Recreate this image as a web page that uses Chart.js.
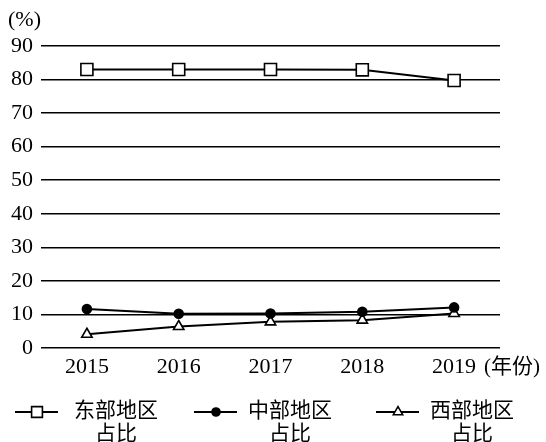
<!DOCTYPE html>
<html>
<head>
<meta charset="utf-8">
<script src="https://cdn.jsdelivr.net/npm/chart.js@4/dist/chart.umd.min.js"></script>
<style>
html,body{margin:0;padding:0;background:#fff;}
#wrap{width:546px;height:442px;}
</style>
</head>
<body>
<div id="wrap"><canvas id="myChart" width="546" height="442"></canvas></div>
<script>
// data
const years = ['2015', '2016', '2017', '2018', '2019'];
const seriesNames = ['东部地区占比', '中部地区占比', '西部地区占比'];
const eastShare = [83.0, 83.0, 83.0, 82.9, 79.7];
const centralShare = [11.6, 10.2, 10.3, 10.8, 12.1];
const westShare = [4.1, 6.4, 7.8, 8.3, 10.3];
const yUnit = '(%)';
const xUnit = '(年份)';

const serif = '"Liberation Serif", "Times New Roman", serif';
const cjk = '"Liberation Serif", "Noto Sans CJK SC", serif';

const styles = [
    {pointStyle: 'rect', radius: 8.5, fill: '#fff'},
    {pointStyle: 'circle', radius: 4.5, fill: '#000'},
    {pointStyle: 'triangle', radius: 6, fill: '#fff'}
];

function drawMarker(ctx, st, x, y) {
    ctx.save();
    ctx.fillStyle = st.fill;
    ctx.strokeStyle = '#000';
    ctx.lineWidth = 1.6;
    Chart.helpers.drawPoint(ctx, {pointStyle: st.pointStyle, radius: st.radius, borderWidth: 1.6, rotation: 0}, x, y);
    ctx.restore();
}

// legend and unit labels
const extras = {
    id: 'extras',
    afterDraw(chart) {
        const ctx = chart.ctx;
        ctx.save();
        ctx.fillStyle = '#000';
        ctx.font = '22px ' + serif;
        ctx.textBaseline = 'middle';
        ctx.textAlign = 'left';
        ctx.fillText(yUnit, 8, 20);
        ctx.font = '21px ' + cjk;
        ctx.fillText(xUnit, 484, 367);

        const lx = [15, 194, 376];
        const tx = [74, 248, 430];
        seriesNames.forEach((name, i) => {
            ctx.strokeStyle = '#000';
            ctx.lineWidth = 2;
            ctx.beginPath();
            ctx.moveTo(lx[i], 412);
            ctx.lineTo(lx[i] + 43, 412);
            ctx.stroke();
            const st = Object.assign({}, styles[i]);
            st.radius = st.radius * 0.9;
            drawMarker(ctx, st, lx[i] + 22, 412);

            ctx.fillStyle = '#000';
            ctx.font = '21px ' + cjk;
            ctx.textAlign = 'left';
            const l1 = name.slice(0, 4);
            const l2 = name.slice(4);
            ctx.fillText(l1, tx[i], 411);
            const w1 = ctx.measureText(l1).width;
            ctx.textAlign = 'center';
            ctx.fillText(l2, tx[i] + w1 / 2, 434);
        });
        ctx.restore();
    }
};

const data = [eastShare, centralShare, westShare];

const ctx = document.getElementById('myChart').getContext('2d');

let chart = new Chart(ctx, {
    type: 'line',
    data: {
        labels: years,
        datasets: data.map((d, i) => ({
            label: seriesNames[i],
            data: d,
            borderColor: '#000',
            borderWidth: 2,
            backgroundColor: styles[i].fill,
            pointStyle: styles[i].pointStyle,
            pointRadius: styles[i].radius,
            pointBorderWidth: 1.6,
            pointBorderColor: '#000',
            pointBackgroundColor: styles[i].fill,
            tension: 0,
            fill: false
        }))
    },
    options: {
        responsive: false,
        animation: false,
        layout: {padding: {top: 46, right: 46, bottom: 0, left: 0}},
        plugins: {
            legend: {display: false},
            tooltip: {enabled: false}
        },
        scales: {
            x: {
                offset: true,
                grid: {display: false, drawTicks: false},
                border: {display: false},
                ticks: {
                    color: '#000',
                    padding: 6,
                    maxRotation: 0,
                    font: {family: serif, size: 22}
                },
                afterFit: s => { s.height = 94; }
            },
            y: {
                min: 0,
                max: 90,
                grid: {color: '#000', lineWidth: 1.5, drawTicks: false},
                border: {display: false},
                ticks: {
                    stepSize: 10,
                    color: '#000',
                    padding: 8,
                    font: {family: serif, size: 22}
                },
                afterFit: s => { s.width = 41; }
            }
        }
    },
    plugins: [extras]
});
</script>
</body>
</html>
